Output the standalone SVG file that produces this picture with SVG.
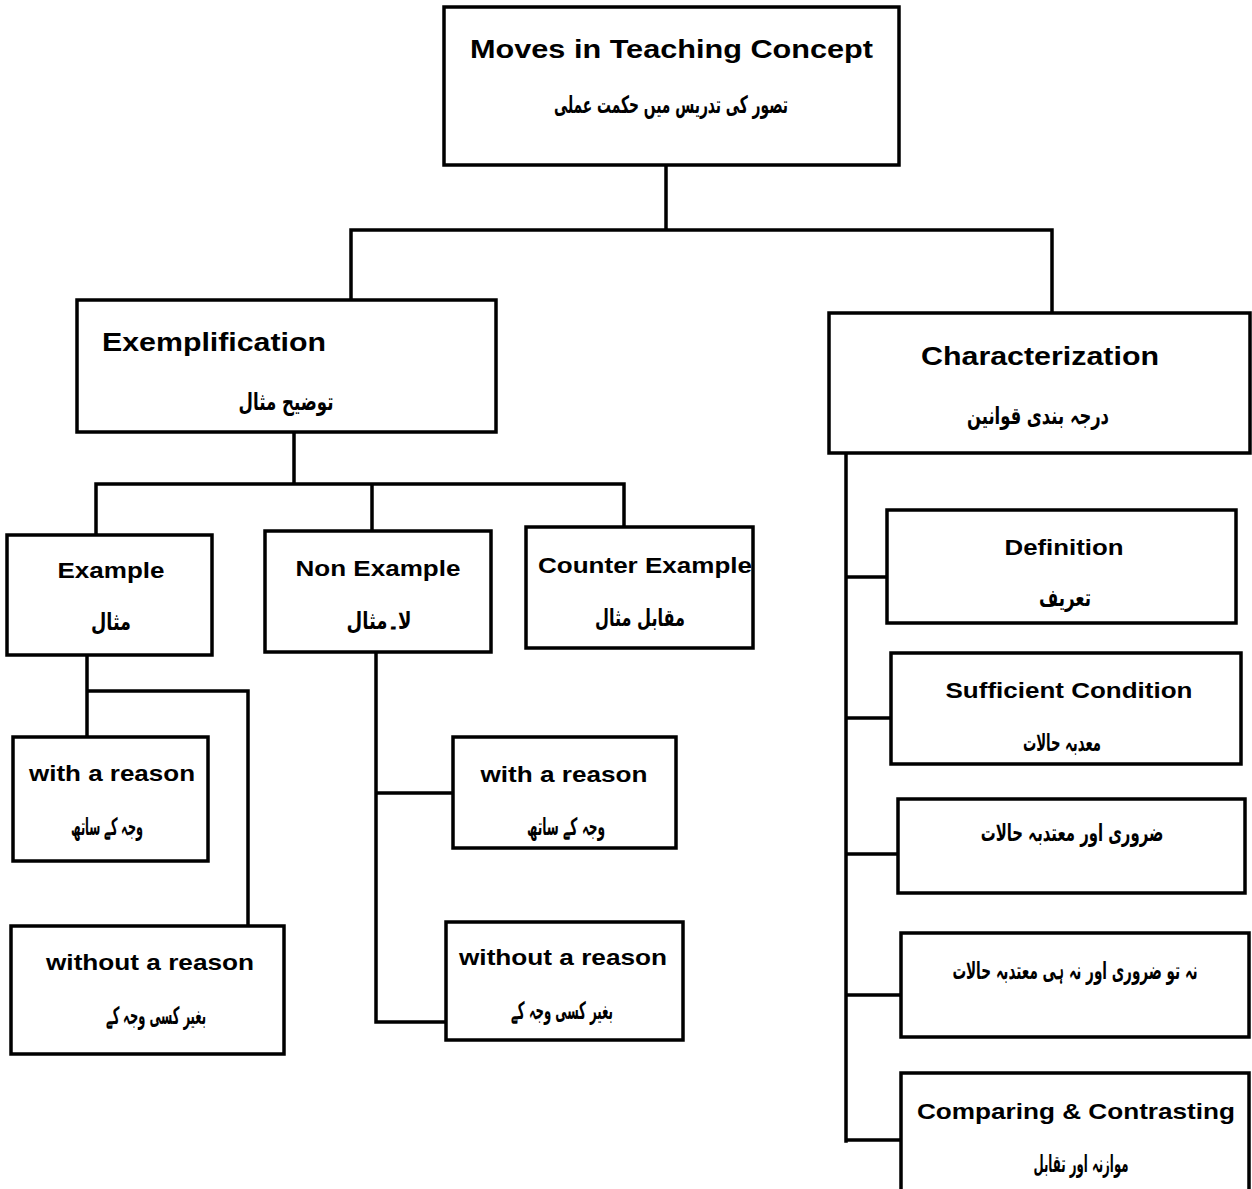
<svg xmlns="http://www.w3.org/2000/svg" width="1252" height="1189" viewBox="0 0 1252 1189">
  <style>
    .box { fill: #ffffff; stroke: #000000; stroke-width: 3.5; }
    .wire { fill: none; stroke: #000000; stroke-width: 3.5; stroke-linecap: square; }
    .en { font-family: "Liberation Sans", Arial, sans-serif; font-weight: bold; fill: #000000; }
    .t1 { font-size: 26px; }
    .t2 { font-size: 22px; }
    .ur { font-family: "DejaVu Sans", "Noto Sans", sans-serif; font-weight: bold; fill: #000000; font-size: 24px; text-anchor: middle; direction: rtl; }
    .mid { text-anchor: middle; }
  </style>
  <rect width="1252" height="1189" fill="#ffffff"/>

  <!-- connectors -->
  <g id="connectors" class="wire">
    <path d="M666 165 V230 M351 230 H1052 M351 230 V300 M1052 230 V313"/>
    <path d="M294 432 V484 M96 484 H624 M96 484 V535 M372 484 V531 M624 484 V527"/>
    <path d="M87 655 V737 M87 691 H248 V926"/>
    <path d="M376 652 V1022 M376 793 H453 M376 1022 H446"/>
    <path d="M846 453 V1141 M846 577 H887 M846 718 H891 M846 854 H898 M846 995 H901 M846 1140 H901"/>
  </g>

  <g id="root">
    <rect class="box" x="444" y="7" width="455" height="158"/>
    <text class="en t1" x="470" y="58" textLength="403" lengthAdjust="spacingAndGlyphs">Moves in Teaching Concept</text>
    <text class="ur" x="671" y="113" font-size="28" textLength="234" lengthAdjust="spacingAndGlyphs">تصور کی تدریس میں حکمت عملی</text>
  </g>

  <g id="exemplification">
    <rect class="box" x="77" y="300" width="419" height="132"/>
    <text class="en t1" x="102" y="351" textLength="224" lengthAdjust="spacingAndGlyphs">Exemplification</text>
    <text class="ur" x="286" y="410" font-size="28" textLength="95" lengthAdjust="spacingAndGlyphs">توضیح مثال</text>
  </g>

  <g id="characterization">
    <rect class="box" x="829" y="313" width="421" height="140"/>
    <text class="en t1 mid" x="1040" y="365" textLength="238" lengthAdjust="spacingAndGlyphs">Characterization</text>
    <text class="ur" x="1038" y="424" textLength="142" lengthAdjust="spacingAndGlyphs">درجہ بندی قوانین</text>
  </g>

  <g id="example">
    <rect class="box" x="7" y="535" width="205" height="120"/>
    <text class="en t2 mid" x="111" y="578" textLength="107" lengthAdjust="spacingAndGlyphs">Example</text>
    <text class="ur" x="111" y="630" textLength="40" lengthAdjust="spacingAndGlyphs">مثال</text>
  </g>

  <g id="non-example">
    <rect class="box" x="265" y="531" width="226" height="121"/>
    <text class="en t2 mid" x="378" y="576" textLength="165" lengthAdjust="spacingAndGlyphs">Non Example</text>
    <text class="ur" x="379" y="629" textLength="65" lengthAdjust="spacingAndGlyphs">لا۔مثال</text>
  </g>

  <g id="counter-example">
    <rect class="box" x="526" y="527" width="227" height="121"/>
    <text class="en t2" x="538" y="573" textLength="214" lengthAdjust="spacingAndGlyphs">Counter Example</text>
    <text class="ur" x="640" y="626" textLength="90" lengthAdjust="spacingAndGlyphs">مقابل مثال</text>
  </g>

  <g id="example-with-reason">
    <rect class="box" x="13" y="737" width="195" height="124"/>
    <text class="en t2 mid" x="112" y="781" textLength="166" lengthAdjust="spacingAndGlyphs">with a reason</text>
    <text class="ur" x="107" y="835" textLength="72" lengthAdjust="spacingAndGlyphs">وجہ کے ساتھ</text>
  </g>

  <g id="example-without-reason">
    <rect class="box" x="11" y="926" width="273" height="128"/>
    <text class="en t2 mid" x="150" y="970" textLength="208" lengthAdjust="spacingAndGlyphs">without a reason</text>
    <text class="ur" x="156" y="1024" textLength="100" lengthAdjust="spacingAndGlyphs">بغیر کسی وجہ کے</text>
  </g>

  <g id="non-example-with-reason">
    <rect class="box" x="453" y="737" width="223" height="111"/>
    <text class="en t2 mid" x="564" y="782" textLength="167" lengthAdjust="spacingAndGlyphs">with a reason</text>
    <text class="ur" x="566" y="835" textLength="78" lengthAdjust="spacingAndGlyphs">وجہ کے ساتھ</text>
  </g>

  <g id="non-example-without-reason">
    <rect class="box" x="446" y="922" width="237" height="118"/>
    <text class="en t2 mid" x="563" y="965" textLength="208" lengthAdjust="spacingAndGlyphs">without a reason</text>
    <text class="ur" x="562" y="1019" textLength="102" lengthAdjust="spacingAndGlyphs">بغیر کسی وجہ کے</text>
  </g>

  <g id="definition">
    <rect class="box" x="887" y="510" width="349" height="113"/>
    <text class="en t2 mid" x="1064" y="555" textLength="119" lengthAdjust="spacingAndGlyphs">Definition</text>
    <text class="ur" x="1065" y="606" font-size="28" textLength="52" lengthAdjust="spacingAndGlyphs">تعریف</text>
  </g>

  <g id="sufficient-condition">
    <rect class="box" x="891" y="653" width="350" height="111"/>
    <text class="en t2 mid" x="1069" y="698" textLength="247" lengthAdjust="spacingAndGlyphs">Sufficient Condition</text>
    <text class="ur" x="1062" y="751" textLength="78" lengthAdjust="spacingAndGlyphs">معدبہ حالات</text>
  </g>

  <!-- long labels: narrowed with a horizontal scale instead of textLength -->
  <g id="necessary-and-sufficient">
    <rect class="box" x="898" y="799" width="347" height="94"/>
    <text class="ur" transform="translate(1072 841) scale(0.62 1)" x="0" y="0" font-size="21">ضروری اور معتدبہ حالات</text>
  </g>

  <g id="neither-condition">
    <rect class="box" x="901" y="933" width="348" height="104"/>
    <text class="ur" transform="translate(1075 979) scale(0.565 1)" x="0" y="0" font-size="21">نہ تو ضروری اور نہ ہی معتدبہ حالات</text>
  </g>

  <g id="comparing-contrasting">
    <rect class="box" x="901" y="1073" width="348" height="130"/>
    <text class="en t2 mid" x="1076" y="1119" textLength="318" lengthAdjust="spacingAndGlyphs">Comparing &amp; Contrasting</text>
    <text class="ur" x="1081" y="1172" textLength="95" lengthAdjust="spacingAndGlyphs">موازنہ اور تقابل</text>
  </g>
</svg>
